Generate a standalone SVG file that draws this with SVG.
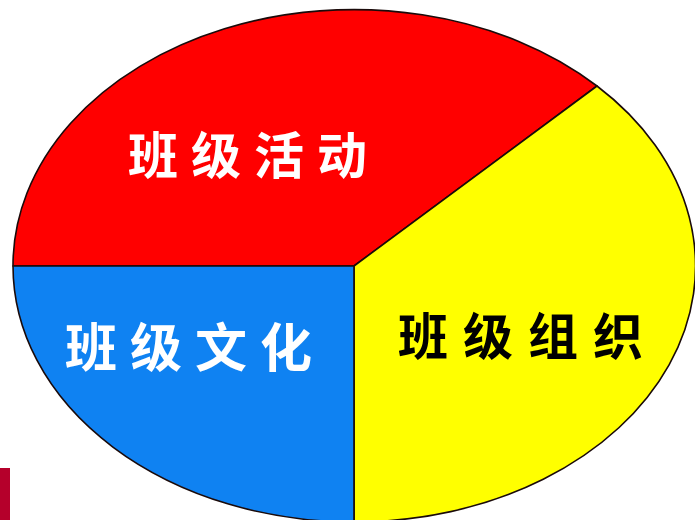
<svg xmlns="http://www.w3.org/2000/svg" width="695" height="520" viewBox="0 0 695 520">
<style>
.sec{stroke:#1a0a0a;stroke-width:1.6;stroke-linejoin:round}
.lbl{font-family:"Noto Sans CJK SC","Noto Sans CJK TC",sans-serif;font-weight:bold}
</style>
<rect width="695" height="520" fill="#ffffff"/>
<rect x="0" y="468" width="10" height="52" fill="#B5002B"/>
<g id="activity">
<path class="sec" d="M354,266 L13,266 A341,256 0 0 1 597,86 Z" fill="#FF0000"/>
<text class="lbl" x="128" y="174" font-size="50" letter-spacing="13" fill="#ffffff">班级活动</text>
</g>
<g id="organization">
<path class="sec" d="M354,266 L597,86 A341,256 0 0 1 354,522 Z" fill="#FFFF00"/>
<text class="lbl" x="398" y="355" font-size="50" letter-spacing="15" fill="#000000">班级组织</text>
</g>
<g id="culture">
<path class="sec" d="M354,266 L354,522 A341,256 0 0 1 13,266 Z" fill="#0F82F2"/>
<text class="lbl" x="65" y="367" font-size="52" letter-spacing="13" fill="#ffffff">班级文化</text>
</g>
</svg>
